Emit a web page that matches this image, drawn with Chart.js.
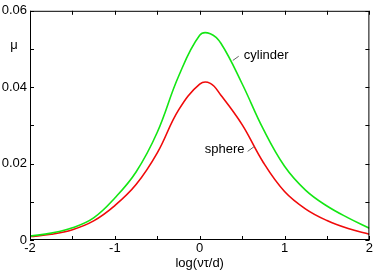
<!DOCTYPE html>
<html lang="en">
  <head>
    <meta charset="UTF-8" />
    <title>mu vs log(nu tau / d)</title>
    <style>
      html, body { margin: 0; padding: 0; background: #fff; }
      #wrap { width: 374px; height: 273px; }
    </style>
    <script src="https://cdn.jsdelivr.net/npm/chart.js"></script>
  </head>
  <body>
    <div id="wrap"><canvas id="muChart" width="374" height="273"></canvas></div>
    <script>
      // log(nu tau / d) sample points
      var logX = [-2, -1.75, -1.5, -1.25, -1, -0.75, -0.5, -0.25, 0, 0.125, 0.25, 0.5, 0.75, 1, 1.25, 1.5, 1.75, 2];
      var cylinder = [0.0010, 0.0018, 0.0032, 0.0058, 0.0110, 0.0178, 0.0282, 0.0428, 0.0536, 0.0540, 0.0515, 0.0409, 0.0290, 0.0193, 0.0130, 0.0089, 0.0058, 0.0031];
      var sphere = [0.0009, 0.0015, 0.0027, 0.0050, 0.0090, 0.0145, 0.0228, 0.0340, 0.0408, 0.0410, 0.0379, 0.0302, 0.0203, 0.0127, 0.0081, 0.0051, 0.0030, 0.0015];
      var xTicks = [-2, -1, 0, 1, 2];
      var yTicks = [0, 0.02, 0.04, 0.06];
      var labels = [
        { text: "cylinder", x: 0.52, y: 0.0482, lx1: 0.39, ly1: 0.0470, lx2: 0.46, ly2: 0.0481 },
        { text: "sphere", x: 0.06, y: 0.0236, lx1: 0.565, ly1: 0.0232, lx2: 0.645, ly2: 0.0245 }
      ];

      var FONT = "Liberation Sans, Arial, Helvetica, sans-serif";

      function pts(ys) {
        return logX.map(function (x, i) { return { x: x, y: ys[i] }; });
      }

      // frame with inward ticks on all four sides, plus text labels
      var framePlugin = {
        id: "frame",
        afterDatasetsDraw: function (chart) {
          var ctx = chart.ctx, a = chart.chartArea;
          var xs = chart.scales.x, ys = chart.scales.y;
          ctx.save();
          ctx.strokeStyle = "#000";
          ctx.lineWidth = 1;
          ctx.strokeRect(a.left + 0.5, a.top + 0.5, a.right - a.left - 1, a.bottom - a.top - 1);
          ctx.beginPath();
          for (var v = -2; v <= 2; v += 0.5) {
            var px = Math.round(xs.getPixelForValue(v)) + 0.5;
            ctx.moveTo(px, a.bottom); ctx.lineTo(px, a.bottom - 4);
            ctx.moveTo(px, a.top); ctx.lineTo(px, a.top + 4);
          }
          for (var k = 0; k <= 6; k++) {
            var py = Math.round(ys.getPixelForValue(k * 0.01)) + 0.5;
            ctx.moveTo(a.left, py); ctx.lineTo(a.left + 4, py);
            ctx.moveTo(a.right, py); ctx.lineTo(a.right - 4, py);
          }
          ctx.stroke();

          ctx.fillStyle = "#000";
          ctx.font = "13px " + FONT;
          ctx.textBaseline = "middle";
          ctx.textAlign = "center";
          ctx.fillText("\u03bc", 14, 45);

          ctx.textAlign = "left";
          ctx.strokeStyle = "#666";
          labels.forEach(function (l) {
            ctx.fillText(l.text, xs.getPixelForValue(l.x), ys.getPixelForValue(l.y));
            ctx.beginPath();
            ctx.moveTo(xs.getPixelForValue(l.lx1), ys.getPixelForValue(l.ly1));
            ctx.lineTo(xs.getPixelForValue(l.lx2), ys.getPixelForValue(l.ly2));
            ctx.stroke();
          });
          ctx.restore();
        }
      };

      var ctx = document.getElementById("muChart").getContext("2d");
      new Chart(ctx, {
        type: "line",
        data: {
          datasets: [
            { label: "cylinder", data: pts(cylinder), borderColor: "rgb(20, 230, 20)", borderWidth: 1.6, pointRadius: 0, fill: false, tension: 0.4 },
            { label: "sphere", data: pts(sphere), borderColor: "rgb(240, 10, 10)", borderWidth: 1.6, pointRadius: 0, fill: false, tension: 0.4 }
          ]
        },
        options: {
          responsive: false,
          animation: false,
          devicePixelRatio: 1,
          layout: { padding: { left: 0, right: 4, top: 7, bottom: 0 } },
          plugins: { legend: { display: false }, tooltip: { enabled: false } },
          scales: {
            x: {
              type: "linear",
              min: -2,
              max: 2,
              grid: { display: false, drawTicks: false },
              border: { display: false },
              afterBuildTicks: function (s) { s.ticks = xTicks.map(function (v) { return { value: v }; }); },
              afterFit: function (s) { s.height = 33; },
              ticks: { padding: 1, color: "#000", font: { family: FONT, size: 13 }, maxRotation: 0, autoSkip: false },
              title: { display: true, text: "log(\u03bd\u03c4/d)", color: "#000", font: { family: FONT, size: 13 }, padding: { top: 0, bottom: 2 } }
            },
            y: {
              min: 0,
              max: 0.06,
              grid: { display: false, drawTicks: false },
              border: { display: false },
              afterBuildTicks: function (s) { s.ticks = yTicks.map(function (v) { return { value: v }; }); },
              afterFit: function (s) { s.width = 30; },
              ticks: { padding: 3, color: "#000", font: { family: FONT, size: 13 }, autoSkip: false,
                callback: function (v) { return v === 0 ? "0" : v.toFixed(2); } }
            }
          }
        },
        plugins: [framePlugin]
      });
    </script>
  </body>
</html>
